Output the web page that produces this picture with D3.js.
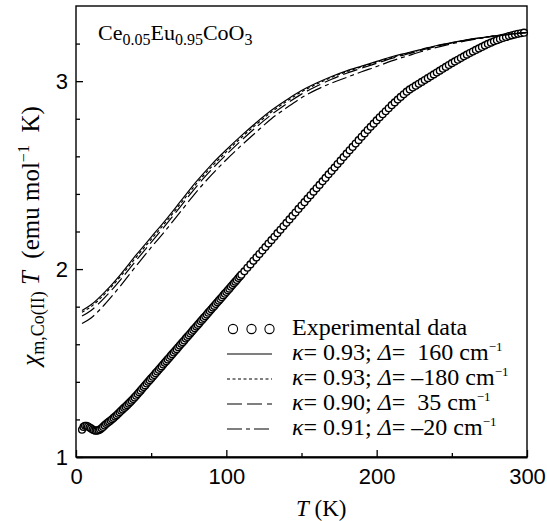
<!DOCTYPE html>
<html>
<head>
<meta charset="utf-8">
<script src="https://cdn.jsdelivr.net/npm/d3@7"></script>
<style>
    body { margin: 0; background: #fff; }
    svg text { font-family: "Liberation Serif", "Times New Roman", serif; fill: #000; }
    .tick text { font-family: "Liberation Sans", Arial, sans-serif; }
</style>
</head>
<body>
<div id="chart"></div>
<script>
// Experimental chi*T of Co(II) (emu mol^-1 K) against T (K)
const expT = [4, 5, 6, 7, 8, 9, 10, 11, 12, 13, 14, 15, 16, 17, 18, 19, 20, 21, 22, 23, 24, 25, 26, 27, 28, 29,
    30, 31, 32, 33, 34, 35, 36, 37, 38, 39, 40, 41, 42, 43, 44, 45, 46, 47, 48, 49, 50, 51, 52, 53, 54, 55,
    56, 57, 58, 59, 60, 61, 62, 63, 64, 65, 66, 67, 68, 69, 70, 71, 72, 73, 74, 75, 76, 77, 78, 79, 80, 81,
    82, 83, 84, 85, 86, 87, 88, 89, 90, 91, 92, 93, 94, 95, 96, 97, 98, 99, 100, 101, 102, 103, 104, 105,
    106, 107, 108, 109, 110,
    112, 114, 116, 118, 120, 122, 124, 126, 128, 130, 132, 134, 136, 138, 140,
    142, 144, 146, 148, 150, 152, 154, 156, 158, 160, 162, 164, 166, 168, 170, 172, 174, 176, 178, 180,
    182, 184, 186, 188, 190, 192, 194, 196, 198, 200, 202, 204, 206, 208, 210, 212, 214, 216, 218, 220,
    222, 224, 226, 228, 230, 232, 234, 236, 238, 240, 242, 244, 246, 248, 250, 252, 254, 256, 258, 260,
    262, 264, 266, 268, 270, 272, 274, 276, 278, 280, 282, 284, 286, 288, 290, 292, 294, 296, 298];
const expChi = [1.145, 1.160, 1.166, 1.166, 1.162, 1.157, 1.152, 1.146, 1.142, 1.140, 1.140, 1.143, 1.147,
    1.153, 1.160, 1.168, 1.175, 1.182, 1.188, 1.194, 1.201, 1.208, 1.215, 1.222, 1.230, 1.238, 1.246, 1.253,
    1.261, 1.268, 1.276, 1.284, 1.292, 1.300, 1.308, 1.317, 1.326, 1.335, 1.344, 1.353, 1.363, 1.372, 1.381,
    1.391, 1.400, 1.409, 1.418, 1.427, 1.436, 1.446, 1.455, 1.464, 1.473, 1.482, 1.492, 1.501, 1.510, 1.519,
    1.528, 1.538, 1.547, 1.556, 1.565, 1.574, 1.584, 1.593, 1.602, 1.611, 1.620, 1.630, 1.639, 1.648, 1.657,
    1.666, 1.676, 1.685, 1.694, 1.703, 1.712, 1.722, 1.731, 1.740, 1.749, 1.758, 1.768, 1.777, 1.786, 1.795,
    1.804, 1.814, 1.823, 1.832, 1.841, 1.850, 1.860, 1.869, 1.878, 1.887, 1.896, 1.906, 1.915, 1.924, 1.933,
    1.942, 1.952, 1.961, 1.970,
    1.988, 2.007, 2.025, 2.044,
    2.062, 2.080, 2.099, 2.117, 2.136, 2.154, 2.172, 2.191, 2.209, 2.228, 2.246, 2.264, 2.283, 2.301, 2.320,
    2.338, 2.356, 2.375, 2.393, 2.412, 2.430, 2.448, 2.467, 2.485, 2.504, 2.522, 2.540, 2.559, 2.577, 2.596,
    2.614, 2.632, 2.650, 2.668, 2.686, 2.704, 2.722, 2.740, 2.757, 2.774, 2.791, 2.808, 2.824, 2.840, 2.856,
    2.872, 2.887, 2.902, 2.916, 2.930, 2.944, 2.956, 2.966, 2.976, 2.986, 2.996, 3.006, 3.016, 3.026, 3.036,
    3.046, 3.056, 3.066, 3.076, 3.086, 3.096, 3.105, 3.114, 3.123, 3.132, 3.141, 3.150, 3.158, 3.166, 3.174,
    3.182, 3.190, 3.198, 3.205, 3.212, 3.218, 3.224, 3.230, 3.235, 3.240, 3.244, 3.248, 3.252, 3.255, 3.258];

// Calculated curves
const modelT = [4, 10, 20, 30, 40, 50, 60, 70, 80, 90, 100, 110, 120, 130, 140, 150, 160, 170, 180, 190,
    200, 210, 220, 230, 240, 250, 260, 270, 280, 290, 300];
const fitK093D160 = [1.78, 1.81, 1.885, 1.975, 2.075, 2.17, 2.265, 2.365, 2.465, 2.555, 2.635, 2.71, 2.78,
    2.845, 2.90, 2.95, 2.99, 3.025, 3.055, 3.08, 3.105, 3.13, 3.15, 3.17, 3.19, 3.205, 3.22, 3.232, 3.243, 3.252, 3.26];
const fitK093Dm180 = [1.77, 1.80, 1.875, 1.965, 2.063, 2.158, 2.253, 2.353, 2.453, 2.543, 2.624, 2.70, 2.77,
    2.836, 2.892, 2.943, 2.984, 3.02, 3.05, 3.076, 3.101, 3.126, 3.147, 3.168, 3.188, 3.204, 3.219, 3.231, 3.242, 3.251, 3.259];
const fitK090D35 = [1.75, 1.78, 1.856, 1.947, 2.046, 2.142, 2.238, 2.338, 2.438, 2.528, 2.609, 2.685, 2.756,
    2.822, 2.879, 2.931, 2.973, 3.01, 3.042, 3.069, 3.095, 3.121, 3.143, 3.165, 3.186, 3.203, 3.218, 3.231, 3.242, 3.251, 3.259];
const fitK091Dm20 = [1.71, 1.74, 1.82, 1.915, 2.017, 2.115, 2.21, 2.31, 2.41, 2.50, 2.582, 2.658, 2.73,
    2.80, 2.858, 2.912, 2.955, 2.99, 3.02, 3.05, 3.078, 3.108, 3.133, 3.158, 3.18, 3.199, 3.215, 3.229, 3.241, 3.25, 3.258];

const fitKappa = ["0.93", "0.93", "0.90", "0.91"];
const fitDelta = ["\u00a0160", "\u2013180", "\u00a035", "\u201320"];

const xMajor = [0, 100, 200, 300];
const xMinor = [50, 150, 250];
const yMajor = [1, 2, 3];
const yMinor = [1.2, 1.4, 1.6, 1.8, 2.2, 2.4, 2.6, 2.8, 3.2];

const width = 547, height = 521;
const margin = { top: 6, right: 20, bottom: 64, left: 76 };

const svg = d3.select("#chart")
    .append("svg")
    .attr("width", width)
    .attr("height", height);

const x = d3.scaleLinear().domain([0, 300]).range([margin.left, width - margin.right]);
const y = d3.scaleLinear().domain([1, 3.4]).range([height - margin.bottom, margin.top]);

// Axes, ticks pointing inward
const xAxis = svg.append("g")
    .attr("transform", `translate(0,${height - margin.bottom})`)
    .call(d3.axisBottom(x).tickValues(xMajor).tickFormat(d3.format("d"))
        .tickSizeInner(-7).tickSizeOuter(0).tickPadding(11));
xAxis.selectAll(".tick text").style("font-size", "22px");
xAxis.select(".domain").attr("stroke-width", 2);

svg.append("g")
    .attr("transform", `translate(0,${height - margin.bottom})`)
    .call(d3.axisBottom(x).tickValues(xMinor).tickSizeInner(-4).tickSizeOuter(0).tickFormat(""))
    .call(g => g.select(".domain").remove());

const yAxis = svg.append("g")
    .attr("transform", `translate(${margin.left},0)`)
    .call(d3.axisLeft(y).tickValues(yMajor).tickFormat(d3.format("d"))
        .tickSizeInner(-7).tickSizeOuter(0).tickPadding(8));
yAxis.selectAll(".tick text").style("font-size", "22px");
yAxis.select(".domain").remove();

svg.append("g")
    .attr("transform", `translate(${margin.left},0)`)
    .call(d3.axisLeft(y).tickValues(yMinor).tickSizeInner(-4).tickSizeOuter(0).tickFormat(""))
    .call(g => g.select(".domain").remove());

svg.selectAll(".tick line").attr("stroke-width", 1.3);

// Frame
svg.append("rect")
    .attr("x", x(0))
    .attr("y", y(3.4))
    .attr("width", x(300) - x(0))
    .attr("height", y(1) - y(3.4))
    .attr("fill", "none")
    .attr("stroke", "#000")
    .attr("stroke-width", 1.4);

// Experimental points
svg.append("g")
    .selectAll("circle")
    .data(expT)
    .enter()
    .append("circle")
    .attr("cx", d => x(d))
    .attr("cy", (d, i) => y(expChi[i]))
    .attr("r", 3.4)
    .attr("fill", "#fff")
    .attr("stroke", "#000")
    .attr("stroke-width", 1.4);

// Model curves
const fits = [
    { values: fitK093D160, dash: null },
    { values: fitK093Dm180, dash: "3,2.5" },
    { values: fitK090D35, dash: "15,5" },
    { values: fitK091Dm20, dash: "15,4,4,4" }
];

const line = d3.line()
    .x((d, i) => x(modelT[i]))
    .y(d => y(d))
    .curve(d3.curveMonotoneX);

svg.append("g")
    .selectAll("path")
    .data(fits)
    .enter()
    .append("path")
    .attr("d", d => line(d.values))
    .attr("fill", "none")
    .attr("stroke", "#000")
    .attr("stroke-width", 1.2)
    .attr("stroke-dasharray", d => d.dash);

// Compound label
const title = svg.append("text")
    .attr("x", 98)
    .attr("y", 40)
    .style("font-size", "22px");
title.append("tspan").text("Ce");
title.append("tspan").attr("dy", 5).style("font-size", "16px").text("0.05");
title.append("tspan").attr("dy", -5).text("Eu");
title.append("tspan").attr("dy", 5).style("font-size", "16px").text("0.95");
title.append("tspan").attr("dy", -5).text("CoO");
title.append("tspan").attr("dy", 5).style("font-size", "16px").text("3");

// Axis titles
const xTitle = svg.append("text")
    .attr("x", 296)
    .attr("y", 516)
    .style("font-size", "23px");
xTitle.append("tspan").style("font-style", "italic").text("T");
xTitle.append("tspan").text("\u00a0(K)");

const yTitle = svg.append("text")
    .attr("transform", "translate(39,236) rotate(-90)")
    .attr("text-anchor", "middle")
    .style("font-size", "25px");
yTitle.append("tspan").style("font-style", "italic").text("\u03c7");
yTitle.append("tspan").attr("dy", 5).style("font-size", "18px").text("m,Co(II)");
yTitle.append("tspan").attr("dy", -5).text("\u00a0");
yTitle.append("tspan").style("font-style", "italic").text("T");
yTitle.append("tspan").text("\u00a0\u00a0(emu mol");
yTitle.append("tspan").attr("dy", -10).style("font-size", "16px").text("\u22121");
yTitle.append("tspan").attr("dy", 10).text("\u00a0\u00a0K)");

// Legend
const legendY = i => 335 + i * 25;

svg.append("g")
    .selectAll("circle")
    .data([233, 251.5, 269.5])
    .enter()
    .append("circle")
    .attr("cx", d => d)
    .attr("cy", legendY(0) - 6)
    .attr("r", 4.6)
    .attr("fill", "#fff")
    .attr("stroke", "#000")
    .attr("stroke-width", 1.1);

svg.append("text")
    .attr("x", 292)
    .attr("y", legendY(0))
    .style("font-size", "24px")
    .text("Experimental data");

fits.forEach((f, i) => {
    const ly = legendY(i + 1);
    svg.append("line")
        .attr("x1", 227)
        .attr("x2", 272)
        .attr("y1", ly - 6)
        .attr("y2", ly - 6)
        .attr("stroke", "#000")
        .attr("stroke-width", 1.2)
        .attr("stroke-dasharray", f.dash);

    const t = svg.append("text")
        .attr("x", 292)
        .attr("y", ly)
        .style("font-size", "24px");
    t.append("tspan").style("font-style", "italic").text("\u03ba");
    t.append("tspan").text("=\u00a0" + fitKappa[i] + ";\u00a0");
    t.append("tspan").style("font-style", "italic").text("\u0394");
    t.append("tspan").text("=\u00a0" + fitDelta[i] + "\u00a0cm");
    t.append("tspan").attr("dy", -9).style("font-size", "13px").text("\u22121");
});
</script>
</body>
</html>
